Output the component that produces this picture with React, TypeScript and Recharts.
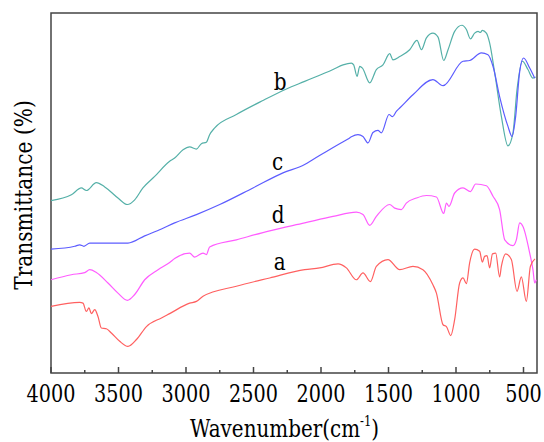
import { LineChart, Line, XAxis, YAxis, ReferenceArea, ReferenceDot } from 'recharts';

// FTIR spectra, wavenumber (cm-1) vs transmittance (arbitrary, offset curves)
const waveB = [4000, 3849, 3775, 3738, 3664, 3602, 3504, 3434, 3380, 3319, 3232, 3121, 3084, 3022, 2973, 2923, 2886, 2849, 2825, 2787, 2627, 2430, 2256, 2121, 1911, 1837, 1775, 1758, 1733, 1713, 1693, 1639, 1590, 1541, 1491, 1467, 1417, 1343, 1289, 1256, 1219, 1171, 1133, 1091, 1059, 1010, 956, 923, 893, 862, 837, 819, 805, 775, 751, 713, 664, 615, 578, 548, 508, 467, 430, 410];
const transB = [47.9, 49.5, 51.4, 50.7, 52.9, 51.7, 48.6, 46.8, 48.1, 51.4, 54.6, 58.8, 59.7, 62.0, 62.8, 62.2, 63.7, 64.1, 66.2, 68.1, 71.8, 75.7, 78.9, 81.0, 84.3, 85.6, 86.1, 85.6, 82.4, 85.2, 84.7, 80.6, 84.3, 85.6, 88.7, 87.0, 87.9, 89.8, 92.4, 89.8, 93.1, 94.4, 93.3, 86.8, 89.8, 94.9, 96.6, 95.4, 92.8, 94.4, 94.9, 94.6, 95.2, 94.4, 91.7, 83.3, 71.3, 63.1, 66.7, 78.7, 86.6, 84.3, 81.9, 82.2];

const waveC = [4000, 3824, 3787, 3756, 3713, 3553, 3430, 3306, 3182, 3084, 2923, 2750, 2504, 2282, 2121, 2059, 1862, 1800, 1775, 1726, 1689, 1652, 1615, 1578, 1553, 1496, 1470, 1442, 1417, 1319, 1171, 1096, 948, 899, 812, 763, 726, 677, 615, 585, 558, 528, 499, 454, 417];
const transC = [34.4, 35.2, 35.6, 35.2, 36.1, 36.1, 36.1, 38.1, 40.0, 41.7, 44.0, 46.8, 51.4, 55.6, 57.9, 59.3, 63.7, 65.0, 65.6, 66.2, 65.7, 63.9, 66.8, 67.4, 66.7, 71.8, 71.2, 72.7, 73.6, 77.3, 81.5, 79.8, 86.6, 86.8, 88.9, 88.4, 85.2, 76.8, 68.5, 65.7, 71.3, 83.8, 87.5, 84.7, 81.9];

const waveD = [4000, 3849, 3750, 3713, 3664, 3578, 3504, 3434, 3380, 3306, 3207, 3121, 3084, 2973, 2936, 2874, 2849, 2825, 2627, 2380, 2121, 1911, 1738, 1689, 1639, 1590, 1491, 1454, 1405, 1368, 1293, 1219, 1145, 1091, 1071, 1052, 1010, 948, 893, 854, 775, 726, 677, 639, 578, 553, 528, 504, 454, 430, 417, 405];
const transD = [25.9, 27.3, 27.9, 28.7, 27.9, 25.0, 22.2, 20.2, 21.8, 25.9, 28.7, 30.7, 31.8, 33.3, 32.2, 33.3, 32.9, 35.0, 37.0, 39.5, 41.7, 43.5, 44.7, 44.0, 41.0, 43.5, 46.8, 45.8, 45.4, 47.2, 48.6, 49.3, 48.9, 44.3, 47.2, 46.3, 50.0, 51.4, 50.4, 52.5, 52.0, 49.1, 45.4, 37.0, 35.4, 37.0, 41.7, 40.7, 33.3, 28.7, 25.0, 25.9];

const waveA = [4000, 3787, 3763, 3738, 3719, 3701, 3676, 3652, 3627, 3590, 3553, 3491, 3430, 3367, 3293, 3182, 3121, 2973, 2923, 2874, 2627, 2380, 2121, 2010, 1874, 1812, 1738, 1689, 1634, 1590, 1504, 1417, 1319, 1245, 1171, 1145, 1096, 1071, 1039, 1010, 973, 948, 923, 899, 862, 825, 805, 788, 770, 751, 730, 706, 677, 664, 632, 590, 548, 516, 479, 449, 415];
const transA = [18.5, 19.6, 19.4, 17.1, 18.1, 16.5, 17.6, 15.7, 12.5, 12.3, 11.1, 8.8, 7.4, 9.3, 12.9, 15.3, 16.5, 19.4, 19.9, 21.3, 24.1, 26.4, 28.7, 29.2, 30.3, 29.2, 25.9, 27.8, 25.4, 29.6, 31.5, 28.7, 29.6, 28.7, 24.5, 22.2, 13.4, 12.9, 10.4, 14.8, 25.0, 26.4, 24.8, 30.6, 34.4, 33.8, 30.8, 32.4, 32.6, 29.2, 33.1, 33.3, 26.7, 29.6, 33.1, 31.5, 22.7, 26.7, 19.9, 29.6, 31.7];

const xTicks = [4000, 3750, 3500, 3250, 3000, 2750, 2500, 2250, 2000, 1750, 1500, 1250, 1000, 750, 500];

const curveNames = ['b', 'c', 'd', 'a'];
const labelWave = [2302, 2321, 2317, 2306];
const labelTrans = [78.7, 56.5, 41.8, 28.7];

const toRows = (w: number[], t: number[]) => w.map((wave, i) => ({ wave, t: t[i] }));

const series = [
  { name: 'b', data: toRows(waveB, transB), color: '#55b0a8' },
  { name: 'c', data: toRows(waveC, transC), color: '#5c5cff' },
  { name: 'd', data: toRows(waveD, transD), color: '#ff5cff' },
  { name: 'a', data: toRows(waveA, transA), color: '#ff6060' },
];

const FRAME = '#444';
// only DejaVu Serif renders as a serif here; squeeze it horizontally to Times-like widths
const SERIF = 'DejaVu Serif';

const WaveTick = (props: any) => {
  const { x, y, payload } = props;
  const major = payload.value % 500 === 0;
  return (
    <g>
      <line x1={x} x2={x} y1={y} y2={y - (major ? 6 : 3)} stroke={FRAME} strokeWidth={1.5} />
      {major && (
        <text
          transform={`translate(${x} ${y + 29}) scale(0.8 1)`}
          textAnchor="middle"
          fontFamily={SERIF}
          fontSize={24}
          fill="#000"
        >
          {payload.value}
        </text>
      )}
    </g>
  );
};

const CurveLabel = (text: string) => (props: any) => (
  <text
    transform={`translate(${props.cx} ${props.cy}) scale(0.8 1)`}
    textAnchor="middle"
    fontFamily={SERIF}
    fontSize={25}
    fill="#000"
  >
    {text}
  </text>
);

export default function App() {
  return (
    <div style={{ position: 'absolute', left: 0, top: 0, width: 544, height: 442, background: '#fff' }}>
      <LineChart width={544} height={442} margin={{ top: 13, right: 7, left: 51, bottom: 0 }}>
        <XAxis
          type="number"
          dataKey="wave"
          domain={[400, 4000]}
          reversed
          ticks={xTicks}
          interval={0}
          height={69}
          axisLine={false}
          tickLine={false}
          tickSize={0}
          tickMargin={0}
          tick={<WaveTick />}
          allowDataOverflow
        />
        <YAxis type="number" domain={[0, 100]} hide allowDataOverflow />
        <ReferenceArea x1={4000} x2={400} y1={0} y2={100} fill="none" stroke={FRAME} strokeWidth={1.5} />
        {series.map((s) => (
          <Line
            key={s.name}
            data={s.data}
            dataKey="t"
            type="monotone"
            stroke={s.color}
            strokeWidth={1.2}
            dot={false}
            isAnimationActive={false}
          />
        ))}
        {curveNames.map((n, i) => (
          <ReferenceDot key={n} x={labelWave[i]} y={labelTrans[i]} r={0} shape={CurveLabel(n)} />
        ))}
      </LineChart>
      <svg width={544} height={442} style={{ position: 'absolute', left: 0, top: 0, pointerEvents: 'none' }}>
        <text transform="translate(190 437) scale(0.83 1)" fontFamily={SERIF} fontSize={24} fill="#000">
          Wavenumber(cm
          <tspan fontSize={14} dy={-11}>-1</tspan>
          <tspan dy={11}>)</tspan>
        </text>
        <text
          transform="translate(32 195) rotate(-90) scale(0.84 1)"
          textAnchor="middle"
          fontFamily={SERIF}
          fontSize={24}
          fill="#000"
        >
          Transmittance (%)
        </text>
      </svg>
    </div>
  );
}
